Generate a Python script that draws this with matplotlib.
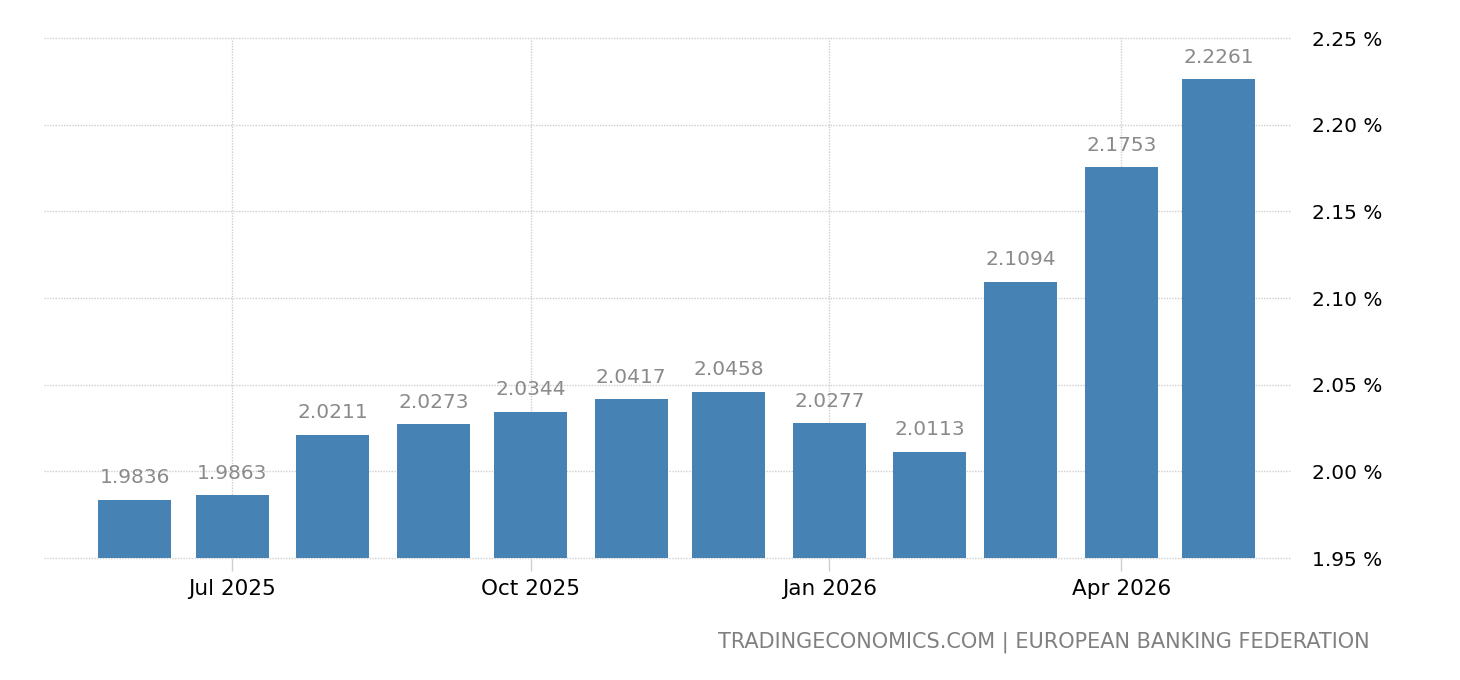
import matplotlib

matplotlib.use("Agg")
import matplotlib.dates as mdates
import matplotlib.pyplot as plt
import matplotlib.ticker as mticker
import pandas as pd

# Datos (tipo en %, mensual)
months = pd.date_range("2025-06-01", "2026-05-01", freq="MS")
values = [1.9836, 1.9863, 2.0211, 2.0273, 2.0344, 2.0417, 2.0458,
          2.0277, 2.0113, 2.1094, 2.1753, 2.2261]
x_ticks = pd.to_datetime(["2025-07-01", "2025-10-01", "2026-01-01", "2026-04-01"])
y_ticks = [1.95, 2.00, 2.05, 2.10, 2.15, 2.20, 2.25]

BAR_COLOR = "#4682b4"
GRID_COLOR = "#cfcfcf"
LABEL_COLOR = "#8a8a8a"

fig = plt.figure(figsize=(14.6, 6.8), dpi=100)
ax = fig.add_axes([0.0301, 0.1794, 0.8535, 0.7647])

ax.bar(months, [v - 1.95 for v in values], bottom=1.95, width=22.5,
       color=BAR_COLOR, zorder=2)

for d, v in zip(months, values):
    ax.annotate(f"{v:.4f}", (mdates.date2num(d), v), xytext=(0, 9),
                textcoords="offset points", ha="center", va="bottom",
                fontsize=14.5, color=LABEL_COLOR)

ax.set_ylim(1.95, 2.25)
ax.set_xlim(pd.Timestamp("2025-05-04"), pd.Timestamp("2026-05-23"))

ax.yaxis.tick_right()
ax.set_yticks(y_ticks)
ax.yaxis.set_major_formatter(mticker.FuncFormatter(lambda v, _: f"{v:.2f} %"))
ax.tick_params(axis="y", length=0, pad=16, labelsize=14.5, labelcolor="black")

ax.set_xticks(x_ticks)
ax.xaxis.set_major_formatter(mdates.DateFormatter("%b %Y"))
ax.tick_params(axis="x", length=9, width=1, color=GRID_COLOR, pad=6,
               labelsize=15.5, labelcolor="black")

ax.grid(True, which="major", color=GRID_COLOR, linestyle=(0, (1, 1)),
        linewidth=1, zorder=0)
ax.set_axisbelow(True)
for line in ax.get_ygridlines():
    line.set_clip_on(False)
for spine in ax.spines.values():
    spine.set_visible(False)

fig.text(1370 / 1460, 1 - 642 / 680,
         "TRADINGECONOMICS.COM | EUROPEAN BANKING FEDERATION",
         ha="right", va="center", fontsize=15, color="#808080")

fig.savefig("out.png", dpi=100, facecolor="white")
